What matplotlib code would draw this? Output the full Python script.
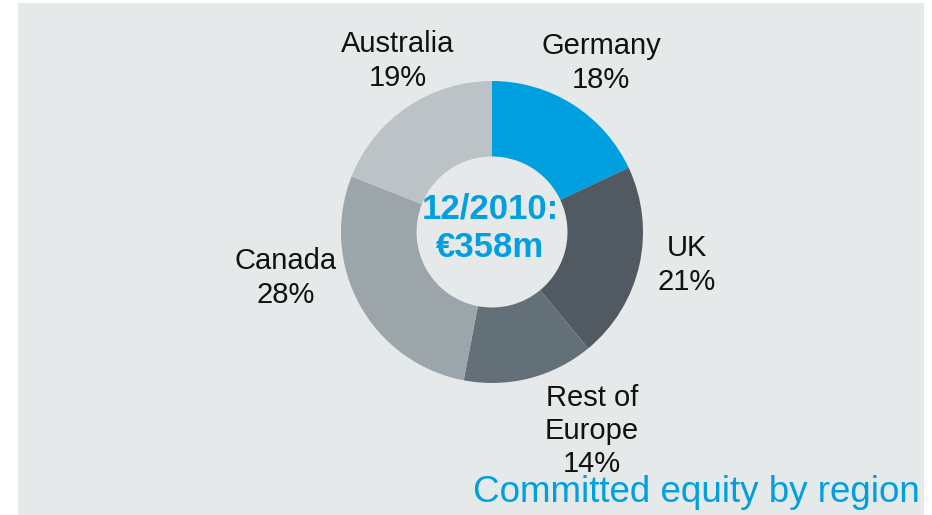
import matplotlib.pyplot as plt
from matplotlib.patches import Rectangle

plt.rcParams['font.family'] = ['Liberation Sans', 'DejaVu Sans']

# data
regions = ["Germany", "UK", "Rest of\nEurope", "Canada", "Australia"]
shares = [18, 21, 14, 28, 19]
colors = ["#009fdf", "#505a60", "#637077", "#9ba5aa", "#bcc3c6"]
center_text = "12/2010:\n€358m"
title = "Committed equity by region"

W, H = 932, 515
BG = "#e6e9ea"
BLUE = "#009fdf"

fig = plt.figure(figsize=(W / 100, H / 100), dpi=100)
fig.patch.set_facecolor("white")
ax = fig.add_axes([0, 0, 1, 1])
ax.set_xlim(0, W)
ax.set_ylim(0, H)
ax.axis("off")

# grey panel
ax.add_patch(Rectangle((18, 0), 906, H - 3, facecolor=BG, edgecolor="none", zorder=0))

# donut (pixel coordinates, y measured from bottom)
cx, cy, r = 492, H - 232, 151
ax.pie(shares, colors=colors, startangle=90, counterclock=False,
       center=(cx, cy), radius=r,
       wedgeprops=dict(width=r * 0.5, linewidth=0))
ax.set_xlim(0, W)
ax.set_ylim(0, H)
ax.set_aspect("equal")

# slice labels: centre of each text block (x, y from top)
label_pos = [(601, 63), (687, 265), (592, 431), (286, 278), (398, 61)]
for name, val, (x, y) in zip(regions, shares, label_pos):
    ax.text(x, H - y, f"{name}\n{val}%", ha="center", va="center",
            fontsize=21, color="#111111", linespacing=1.24)

ax.text(cx - 2, H - 228, center_text, ha="center", va="center",
        fontsize=25, fontweight="bold", color=BLUE, linespacing=1.2)

ax.text(920, H - 492, title, ha="right", va="center", fontsize=26.5, color=BLUE)

fig.savefig("out.png", dpi=100, facecolor=fig.get_facecolor())
